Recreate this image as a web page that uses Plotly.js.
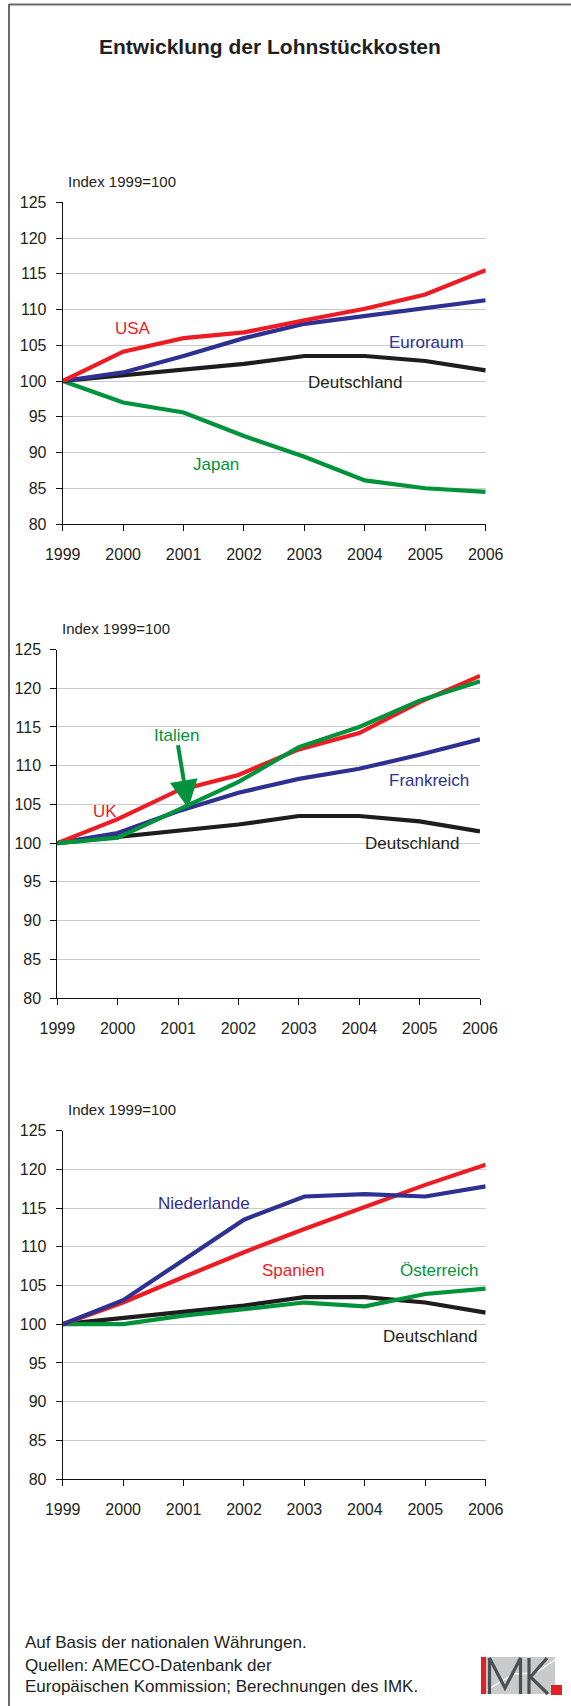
<!DOCTYPE html>
<html>
<head>
<meta charset="utf-8">
<script src="https://cdn.plot.ly/plotly-3.0.1.min.js"></script>
<style>html,body{margin:0;padding:0;background:#fff;}#chart{width:571px;height:1706px;}</style>
</head>
<body>
<div id="chart"></div>
<script>
// ---- Data ----
const years = [1999, 2000, 2001, 2002, 2003, 2004, 2005, 2006];
const yTicks = [80, 85, 90, 95, 100, 105, 110, 115, 120, 125];

const deutschland = [100, 100.8, 101.5, 102.4, 103.5, 103.5, 102.8, 101.5];

// Chart 1
const usa      = [100, 104.1, 106.0, 106.8, 108.5, 110.1, 112.1, 115.5];
const euroraum = [100, 101.2, 103.5, 106.0, 108.0, 109.1, 110.2, 111.3];
const japan    = [100, 97.0, 95.6, 92.3, 89.4, 86.1, 85.0, 84.5];

// Chart 2
const uk         = [100, 103.1, 106.8, 108.8, 112.1, 114.2, 118.2, 121.6];
const frankreich = [100, 101.3, 104.1, 106.5, 108.3, 109.6, 111.4, 113.4];
const italien    = [100, 100.7, 104.3, 107.9, 112.4, 115.0, 118.4, 120.9];

// Chart 3
const niederlande = [100, 103.1, 108.3, 113.5, 116.5, 116.8, 116.5, 117.8];
const spanien     = [100, 102.8, 106.1, 109.3, 112.3, 115.2, 118.0, 120.6];
const oesterreich = [100, 100.0, 101.1, 102.0, 102.8, 102.3, 103.9, 104.6];

// ---- Styling ----
const W = 571, H = 1706;
const px = x => x / W;
const py = y => 1 - y / H;
const RED = '#ed1c24', BLUE = '#2e3192', GREEN = '#00933c', BLACK = '#1e1c1d';
const TXT = '#231f20';
const FONT = 'Liberation Sans, Arial, Helvetica, sans-serif';

function line(y, color, n) {
  return {
    x: years, y: y, type: 'scatter', mode: 'lines',
    xaxis: 'x' + (n === 1 ? '' : n), yaxis: 'y' + (n === 1 ? '' : n),
    line: {color: color, width: 4.2, shape: 'linear'},
    cliponaxis: false, hoverinfo: 'skip', showlegend: false
  };
}

const data = [
  line(japan, GREEN, 1), line(deutschland, BLACK, 1), line(euroraum, BLUE, 1), line(usa, RED, 1),
  line(deutschland, BLACK, 2), line(frankreich, BLUE, 2), line(uk, RED, 2), line(italien, GREEN, 2),
  line(deutschland, BLACK, 3), line(oesterreich, GREEN, 3), line(spanien, RED, 3), line(niederlande, BLUE, 3)
];

function xax(x0, x1, n) {
  return {
    domain: [px(x0), px(x1)], range: [1999, 2006], tickvals: years,
    ticktext: years.map(String), anchor: n === 1 ? 'y' : 'y' + n,
    showline: true, linecolor: '#111', linewidth: 1,
    ticks: 'outside', ticklen: 6, tickcolor: '#111', tickwidth: 1,
    showgrid: false, zeroline: false, ticklabelstandoff: 10,
    tickfont: {family: FONT, size: 16, color: TXT}, fixedrange: true
  };
}
function yax(top, bottom, n) {
  return {
    domain: [py(bottom), py(top)], range: [80, 125], tickvals: yTicks,
    anchor: n === 1 ? 'x' : 'x' + n,
    showline: true, linecolor: '#111', linewidth: 1,
    ticks: 'outside', ticklen: 6, tickcolor: '#111', tickwidth: 1,
    showgrid: true, gridcolor: '#cccccc', gridwidth: 1, zeroline: false,
    ticklabelstandoff: 6,
    tickfont: {family: FONT, size: 16, color: TXT}, fixedrange: true
  };
}

function label(text, x, y, color, size, anchor) {
  return {
    text: text, xref: 'paper', yref: 'paper', x: px(x), y: py(y),
    xanchor: anchor || 'center', yanchor: 'middle', showarrow: false,
    font: {family: FONT, size: size || 17, color: color}
  };
}

const annotations = [
  {text: '<b>Entwicklung der Lohnstückkosten</b>', xref: 'paper', yref: 'paper',
   x: px(269.5), y: py(47), xanchor: 'center', yanchor: 'middle', showarrow: false,
   font: {family: FONT, size: 21, color: TXT}},
  label('Index 1999=100', 66, 181, TXT, 15, 'left'),
  label('USA', 132.5, 328, RED),
  label('Euroraum', 426.5, 342, BLUE),
  label('Deutschland', 355.5, 383, TXT),
  label('Japan', 215.5, 464, GREEN),

  label('Index 1999=100', 60, 629, TXT, 15, 'left'),
  label('UK', 104.5, 811.7, RED),
  label('Frankreich', 428.7, 780, BLUE),
  label('Deutschland', 412, 844, TXT),
  {text: 'Italien', xref: 'x2', yref: 'y2', x: 2001.17, y: 104.5,
   axref: 'pixel', ayref: 'pixel', ax: -12, ay: -73,
   showarrow: true, arrowhead: 2, arrowsize: 1.4, arrowwidth: 4, arrowcolor: GREEN,
   borderpad: 0, font: {family: FONT, size: 17, color: GREEN}},

  label('Index 1999=100', 66, 1109, TXT, 15, 'left'),
  label('Niederlande', 204, 1203.3, BLUE),
  label('Spanien', 292.5, 1270.7, RED),
  label('Österreich', 438.8, 1270.7, GREEN),
  label('Deutschland', 430.5, 1336.7, TXT),

  label('Auf Basis der nationalen Währungen.', 22.5, 1642.7, TXT, 17, 'left'),
  label('Quellen: AMECO-Datenbank der', 22.5, 1665, TXT, 17, 'left'),
  label('Europäischen Kommission; Berechnungen des IMK.', 22.5, 1686.7, TXT, 17, 'left')
];

function poly(segments) {
  return segments.map(seg => seg.map((p, i) => (i === 0 ? 'M ' : 'L ') + px(p[0]).toFixed(5) + ',' + py(p[1]).toFixed(5)).join(' ')).join(' ');
}
function rectPx(x0, y0, x1, y1, fill) {
  return {type: 'rect', xref: 'paper', yref: 'paper', x0: px(x0), x1: px(x1), y0: py(y1), y1: py(y0),
          fillcolor: fill, line: {width: 0}, layer: 'above'};
}

const shapes = [
  // frame
  {type: 'line', xref: 'paper', yref: 'paper', x0: px(9), x1: px(571), y0: py(4.5), y1: py(4.5), line: {color: '#6a6a6a', width: 2}},
  {type: 'line', xref: 'paper', yref: 'paper', x0: px(9), x1: px(9), y0: py(4), y1: py(1706), line: {color: '#6a6a6a', width: 2}},
  // IMK logo
  rectPx(481, 1657, 555, 1694, '#c8cacc'),
  {type: 'path', xref: 'paper', yref: 'paper', path: poly([[[487, 1690], [514, 1674], [535, 1673], [555, 1660]]]),
   line: {color: '#ffffff', width: 1.3}, layer: 'above'},
  rectPx(481, 1657, 486, 1694, '#e31e24'),
  {type: 'path', xref: 'paper', yref: 'paper',
   path: poly([[[489.5, 1694], [489.5, 1658], [505, 1688], [520.5, 1658], [520.5, 1694]]]),
   line: {color: '#4b5055', width: 3.2}, layer: 'above'},
  {type: 'path', xref: 'paper', yref: 'paper',
   path: poly([[[529, 1658], [529, 1694]], [[547, 1658], [530.5, 1677], [548, 1694]]]),
   line: {color: '#4b5055', width: 3.2}, layer: 'above'},
  rectPx(551, 1685, 562, 1695, '#e31e24')
];

const layout = {
  width: W, height: H,
  margin: {l: 0, r: 0, t: 0, b: 0},
  paper_bgcolor: '#ffffff', plot_bgcolor: 'rgba(0,0,0,0)',
  showlegend: false,
  font: {family: FONT, color: TXT},
  xaxis: xax(62.7, 485.7, 1), yaxis: yax(202.3, 524, 1),
  xaxis2: xax(57.3, 480, 2), yaxis2: yax(649.5, 998, 2),
  xaxis3: xax(62.7, 485.7, 3), yaxis3: yax(1130.7, 1479, 3),
  annotations: annotations,
  shapes: shapes
};

Plotly.newPlot('chart', data, layout, {displayModeBar: false, staticPlot: true});
</script>
</body>
</html>
